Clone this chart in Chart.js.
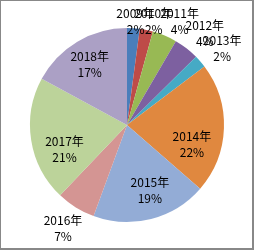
<!DOCTYPE html>
<html>
<head>
<meta charset="utf-8">
<script src="https://cdn.jsdelivr.net/npm/chart.js@4/dist/chart.umd.min.js"></script>
<style>
  html, body { margin: 0; padding: 0; background: #fff; }
  canvas { display: block; }
</style>
</head>
<body>
<canvas id="pie" width="254" height="250"></canvas>
<script>
// slice data
const years = ['2009年', '2010年', '2011年', '2012年', '2013年', '2014年', '2015年', '2016年', '2017年', '2018年'];
const shares = [2.1, 2.2, 4.1, 4.2, 2.1, 21.7, 19.2, 6.5, 20.8, 17.1];
const sliceColors = ['#4a7ebb', '#be4b48', '#98b954', '#7d60a0', '#46aac5',
                     '#e0883f', '#93acd6', '#d49593', '#bcd39a', '#aba0c5'];

// where each label sits: [angle shift in degrees, distance as fraction of radius]
const labelPlacement = [[1, 1.07], [3, 1.1], [4, 1.2], [2.5, 1.24], [2, 1.26],
                        [15, 0.7], [-5, 0.71], [0, 1.25], [-12, 0.69], [-1, 0.73]];

const frame = {
  id: 'frame',
  beforeDraw(chart) {
    const { ctx, width, height } = chart;
    ctx.save();
    ctx.fillStyle = '#fff';
    ctx.fillRect(0, 0, width, height);
    ctx.fillStyle = '#888';
    ctx.fillRect(0, 0, width, 1);
    ctx.fillRect(0, 0, 1, height);
    ctx.fillRect(width - 2, 0, 2, height);
    ctx.fillRect(0, height - 2, width, 2);
    ctx.restore();
  }
};

const sliceLabels = {
  id: 'sliceLabels',
  afterDatasetsDraw(chart) {
    const { ctx } = chart;
    const meta = chart.getDatasetMeta(0);
    ctx.save();
    ctx.font = '12px "Noto Sans CJK SC", "Liberation Sans", sans-serif';
    ctx.fillStyle = '#000';
    ctx.textAlign = 'center';
    ctx.textBaseline = 'middle';
    meta.data.forEach((arc, i) => {
      const p = arc.getProps(['x', 'y', 'startAngle', 'endAngle', 'outerRadius'], true);
      const [shift, factor] = labelPlacement[i];
      const a = (p.startAngle + p.endAngle) / 2 + shift * Math.PI / 180;
      const r = p.outerRadius * factor;
      const cx = p.x + Math.cos(a) * r;
      const cy = p.y + Math.sin(a) * r;
      ctx.fillText(years[i], cx, cy - 8);
      ctx.fillText(Math.round(shares[i]) + '%', cx, cy + 8);
    });
    ctx.restore();
  }
};

new Chart(document.getElementById('pie'), {
  type: 'pie',
  data: {
    labels: years,
    datasets: [{
      data: shares,
      backgroundColor: sliceColors,
      borderWidth: 0
    }]
  },
  options: {
    responsive: false,
    animation: false,
    events: [],
    layout: { padding: { left: 30, right: 30, top: 28, bottom: 28 } },
    plugins: {
      legend: { display: false },
      tooltip: { enabled: false }
    }
  },
  plugins: [frame, sliceLabels]
});
</script>
</body>
</html>
